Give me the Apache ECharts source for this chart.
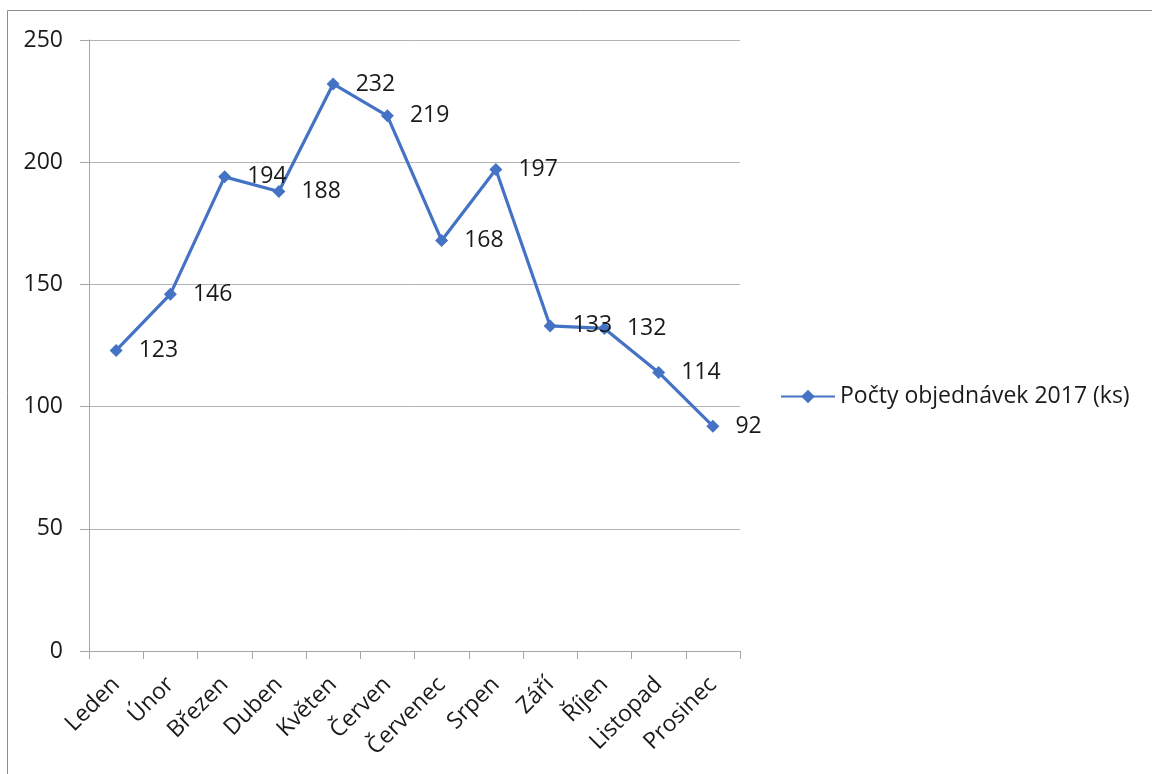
<!DOCTYPE html>
<html>
<head>
<meta charset="utf-8">
<script src="https://cdn.jsdelivr.net/npm/echarts@6/dist/echarts.min.js"></script>
<style>
  html, body { margin: 0; padding: 0; background: #fff; }
  #chart { width: 1152px; height: 774px; }
</style>
</head>
<body>
<div id="chart"></div>
<script>
// Monthly order counts for 2017
const months = ['Leden', 'Únor', 'Březen', 'Duben', 'Květen', 'Červen',
                'Červenec', 'Srpen', 'Září', 'Říjen', 'Listopad', 'Prosinec'];
const orders2017 = [123, 146, 194, 188, 232, 219, 168, 197, 133, 132, 114, 92];
const seriesName = 'Počty objednávek 2017 (ks)';

const FONT = '"Open Sans", Lato, sans-serif';
const FS = 23;
const TEXT = '#1a1a1a';
const BLUE = '#4472C4';

const chart = echarts.init(document.getElementById('chart'), null, { renderer: 'canvas' });

chart.setOption({
  animation: false,
  backgroundColor: '#ffffff',
  textStyle: { fontFamily: FONT },
  graphic: [{
    type: 'rect',
    shape: { x: 7.5, y: 10.5, width: 1300, height: 900 },
    style: { fill: 'none', stroke: '#8c8c8c', lineWidth: 1 },
    silent: true
  }],
  grid: { left: 89, right: 412, top: 40, bottom: 123, containLabel: false },
  legend: {
    data: [seriesName],
    left: 775,
    top: 380,
    orient: 'vertical',
    itemWidth: 54,
    itemHeight: 17,
    itemGap: 8,
    textStyle: { fontFamily: FONT, fontSize: FS, color: TEXT }
  },
  xAxis: {
    type: 'category',
    data: months,
    boundaryGap: true,
    axisLine: { lineStyle: { color: '#a6a6a6', width: 1 } },
    axisTick: { show: true, length: 8, alignWithLabel: false, lineStyle: { color: '#a6a6a6' } },
    axisLabel: {
      rotate: 45,
      margin: 30,
      interval: 0,
      fontFamily: FONT,
      fontSize: FS,
      color: TEXT
    },
    splitLine: { show: false }
  },
  yAxis: {
    type: 'value',
    min: 0,
    max: 250,
    interval: 50,
    axisLine: { show: true, lineStyle: { color: '#a6a6a6', width: 1 } },
    axisTick: { show: true, length: 9, lineStyle: { color: '#a6a6a6' } },
    axisLabel: { margin: 26, fontFamily: FONT, fontSize: FS, color: TEXT },
    splitLine: { show: true, lineStyle: { color: '#b3b3b3', width: 1 } }
  },
  series: [{
    name: seriesName,
    type: 'line',
    data: orders2017,
    symbol: 'diamond',
    symbolSize: 13,
    lineStyle: { color: BLUE, width: 3.2 },
    itemStyle: { color: BLUE },
    label: {
      show: true,
      position: 'right',
      distance: 16,
      fontFamily: FONT,
      fontSize: FS,
      color: TEXT
    }
  }]
});
</script>
</body>
</html>
